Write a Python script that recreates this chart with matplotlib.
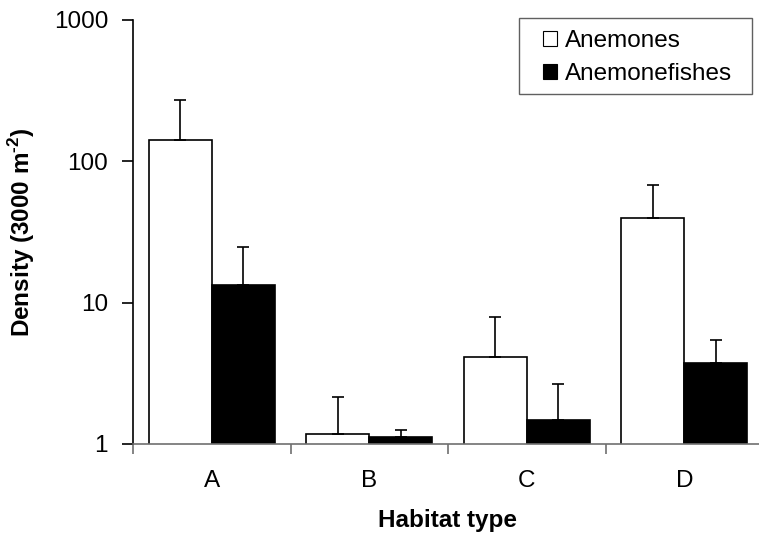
import matplotlib.pyplot as plt
from matplotlib.patches import Rectangle
import numpy as np

plt.rcParams['font.family'] = ['Liberation Sans', 'DejaVu Sans']
plt.rcParams['mathtext.fontset'] = 'custom'
plt.rcParams['mathtext.rm'] = 'Liberation Sans:bold'

habitats = ['A', 'B', 'C', 'D']
anemones = [142, 1.18, 4.1, 39.5]
anemones_err = [128, 0.98, 3.85, 28.1]
fishes = [13.4, 1.115, 1.49, 3.72]
fishes_err = [11.3, 0.145, 1.15, 1.68]

fs = 17.5

fig = plt.figure(figsize=(7.59, 5.41), dpi=100)
ax = fig.add_axes([133 / 759, 1 - 444 / 541, 630 / 759, 424 / 541])

x = np.arange(len(habitats))
w = 0.4
err_style = dict(ecolor='black', elinewidth=1.2, capsize=4, capthick=1.2)
ax.bar(x - w / 2, anemones, w, color='white', edgecolor='black', linewidth=1.2,
       yerr=[np.zeros(4), anemones_err], error_kw=err_style)
ax.bar(x + w / 2, fishes, w, color='black', edgecolor='black', linewidth=1.2,
       yerr=[np.zeros(4), fishes_err], error_kw=err_style)

ax.set_yscale('log')
ax.set_ylim(1, 1000)
ax.set_xlim(-0.5, 3.5)
ax.set_yticks([1, 10, 100, 1000])
ax.set_yticklabels(['1', '10', '100', '1000'])
ax.yaxis.set_minor_locator(plt.NullLocator())
ax.tick_params(axis='y', which='major', direction='out', length=8, width=1.2,
               labelsize=fs, pad=10)

ax.set_xticks(x)
ax.set_xticklabels(habitats)
ax.set_xticks([-0.5, 0.5, 1.5, 2.5, 3.5], minor=True)
ax.tick_params(axis='x', which='major', length=0, labelsize=fs, pad=19)
ax.tick_params(axis='x', which='minor', direction='out', length=7, width=1.2,
               color='#707070')

for s in ['top', 'right']:
    ax.spines[s].set_visible(False)
ax.spines['left'].set_linewidth(1.2)
ax.spines['bottom'].set_linewidth(1.2)
ax.spines['bottom'].set_color('#707070')

fig.text(22 / 759, 1 - 232 / 541, 'Density (3000 m$^{\\text{-2}}$)', rotation=90,
         ha='center', va='center', fontsize=fs, fontweight='bold')
fig.text(447 / 759, 1 - 521 / 541, 'Habitat type', ha='center', va='center',
         fontsize=fs, fontweight='bold')

# legend entries without their own frame; the box is drawn separately
handles = [Rectangle((0, 0), 1, 1, facecolor='white', edgecolor='black', linewidth=0.8),
           Rectangle((0, 0), 1, 1, facecolor='black', edgecolor='black', linewidth=0.8)]
leg = fig.legend(handles, ['Anemones', 'Anemonefishes'], loc='upper left',
                 bbox_to_anchor=(536 / 759, 1 - 23 / 541), fontsize=fs,
                 frameon=False, handlelength=0.58, handleheight=0.58,
                 handletextpad=0.3, borderpad=0.3, labelspacing=0.45,
                 borderaxespad=0)
fig.add_artist(Rectangle((519 / 759, 1 - 94 / 541), 233 / 759, 76 / 541,
                         transform=fig.transFigure, facecolor='none',
                         edgecolor='#606060', linewidth=1.0))

fig.savefig('out.png', dpi=100)
